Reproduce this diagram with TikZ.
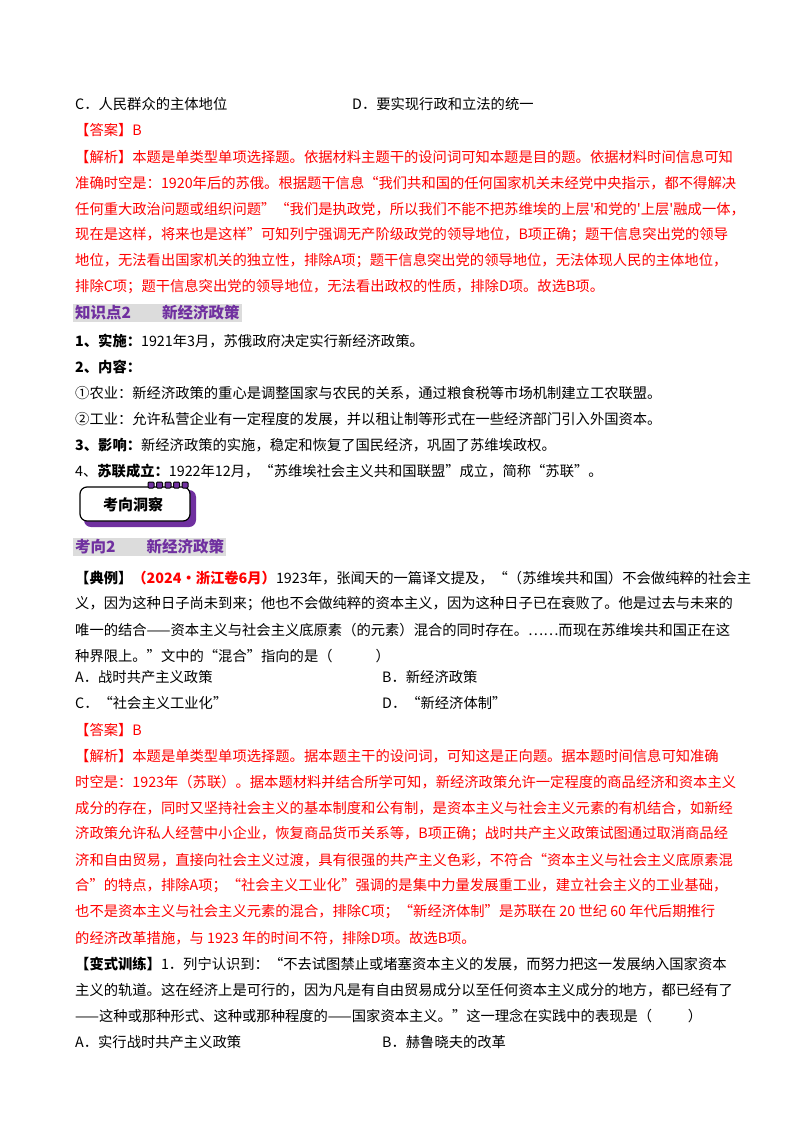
\documentclass[tikz,border=0pt]{standalone}
\usepackage{fontspec}
\setmainfont{Noto Sans CJK SC}
\definecolor{rd}{RGB}{255,0,0}
\definecolor{pu}{RGB}{112,48,160}
\definecolor{hg}{RGB}{220,220,220}
\newcommand{\J}[1]{#1}
\begin{document}
\begin{tikzpicture}[x=1pt,y=-1pt,
  t/.style={anchor=west,inner sep=0pt,font=\fontsize{14.3}{16}\selectfont},
  r/.style={t,text=rd},
  hd/.style={anchor=west,inner sep=2pt,fill=hg,text=pu,font=\fontsize{15.5}{17}\selectfont\bfseries}]
\useasboundingbox (0,0) rectangle (800,1132);
\fill[white] (0,0) rectangle (800,1132);
\node[t] (l1) at (75,104) {C．人民群众的主体地位};
\node[t] (l1b) at (352,104) {D．要实现行政和立法的统一};
\node[r] (a1) at (75,130) {【答案】B};
\node[r] (p1) at (75,157) {\J{【解析】本题是单类型单项选择题。依据材料主题干的设问词可知本题是目的题。依据材料时间信息可知}};
\node[r] (p2) at (75,183) {\J{准确时空是：1920年后的苏俄。根据题干信息“我们共和国的任何国家机关未经党中央指示，都不得解决}};
\node[r] (p3) at (75,209) {\J{任何重大政治问题或组织问题”“我们是执政党，所以我们不能不把苏维埃的上层\textquotesingle{}和党的\textquotesingle{}上层\textquotesingle{}融成一体，}};
\node[r] (p4) at (75,235) {\J{现在是这样，将来也是这样”可知列宁强调无产阶级政党的领导地位，B项正确；题干信息突出党的领导}};
\node[r] (p5) at (75,261) {\J{地位，无法看出国家机关的独立性，排除A项；题干信息突出党的领导地位，无法体现人民的主体地位，}};
\node[r] (p6) at (75,287) {排除C项；题干信息突出党的领导地位，无法看出政权的性质，排除D项。故选B项。};
\node[hd] (h1) at (73,313) {知识点2\hspace{2em}新经济政策};
\node[t] (k1) at (75,341) {\textbf{1、实施：}1921年3月，苏俄政府决定实行新经济政策。};
\node[t] (k2) at (75,367) {\textbf{2、内容：}};
\node[t] (k3) at (75,393) {①农业：新经济政策的重心是调整国家与农民的关系，通过粮食税等市场机制建立工农联盟。};
\node[t] (k4) at (75,419) {②工业：允许私营企业有一定程度的发展，并以租让制等形式在一些经济部门引入外国资本。};
\node[t] (k5) at (75,445) {\textbf{3、影响：}新经济政策的实施，稳定和恢复了国民经济，巩固了苏维埃政权。};
\node[t] (k6) at (75,471) {4、\textbf{苏联成立：}1922年12月，“苏维埃社会主义共和国联盟”成立，简称“苏联”。};
% badge
\fill[pu,rounded corners=7pt] (84,490) -- (196,490) -- (196,527) -- (84,527) -- cycle;
\draw[black,line width=1.2pt,fill=white,rounded corners=7pt] (80,487) -- (190,487) -- (190,521) -- (80,521) -- cycle;
\foreach \i in {0,...,4} \draw[black,line width=1pt,fill=pu,rounded corners=1pt] (148+\i*8.5,482) rectangle +(6,6);
\node[inner sep=0pt,font=\fontsize{15}{16}\selectfont\bfseries] (bd) at (133,505) {考向洞察};
\node[hd] (h2) at (73,547) {考向2\hspace{2em}新经济政策};
\node[t] (e1) at (75,578) {\J{\textbf{【典例】}\textcolor{rd}{\textbf{（2024·浙江卷6月）}}1923年，张闻天的一篇译文提及，“（苏维埃共和国）不会做纯粹的社会主}};
\node[t] (e2) at (75,604) {\J{义，因为这种日子尚未到来；他也不会做纯粹的资本主义，因为这种日子已在衰败了。他是过去与未来的}};
\node[t] (e3) at (75,630) {\J{唯一的结合——资本主义与社会主义底原素（的元素）混合的同时存在。……而现在苏维埃共和国正在这}};
\node[t] (e4) at (75,656) {种界限上。”文中的“混合”指向的是（\hspace{3em}）};
\node[t] (oA) at (75,677) {A．战时共产主义政策};
\node[t] (oB) at (382,677) {B．新经济政策};
\node[t] (oC) at (75,703) {C．“社会主义工业化”};
\node[t] (oD) at (382,703) {D．“新经济体制”};
\node[r] (a2) at (75,730) {【答案】B};
\node[r] (q1) at (75,756) {\J{【解析】本题是单类型单项选择题。据本题主干的设问词，可知这是正向题。据本题时间信息可知准确}};
\node[r] (q2) at (75,782) {\J{时空是：1923年（苏联）。据本题材料并结合所学可知，新经济政策允许一定程度的商品经济和资本主义}};
\node[r] (q3) at (75,808) {\J{成分的存在，同时又坚持社会主义的基本制度和公有制，是资本主义与社会主义元素的有机结合，如新经}};
\node[r] (q4) at (75,834) {\J{济政策允许私人经营中小企业，恢复商品货币关系等，B项正确；战时共产主义政策试图通过取消商品经}};
\node[r] (q5) at (75,860) {\J{济和自由贸易，直接向社会主义过渡，具有很强的共产主义色彩，不符合“资本主义与社会主义底原素混}};
\node[r] (q6) at (75,886) {\J{合”的特点，排除A项；“社会主义工业化”强调的是集中力量发展重工业，建立社会主义的工业基础，}};
\node[r] (q7) at (75,912) {\J{也不是资本主义与社会主义元素的混合，排除C项；“新经济体制”是苏联在 20 世纪 60 年代后期推行}};
\node[r] (q8) at (75,938) {的经济改革措施，与 1923 年的时间不符，排除D项。故选B项。};
\node[t] (v1) at (75,964) {\J{\textbf{【变式训练】}1．列宁认识到：“不去试图禁止或堵塞资本主义的发展，而努力把这一发展纳入国家资本}};
\node[t] (v2) at (75,990) {\J{主义的轨道。这在经济上是可行的，因为凡是有自由贸易成分以至任何资本主义成分的地方，都已经有了}};
\node[t] (v3) at (75,1016) {——这种或那种形式、这种或那种程度的——国家资本主义。”这一理念在实践中的表现是（\hspace{2.5em}）};
\node[t] (vA) at (75,1042) {A．实行战时共产主义政策};
\node[t] (vB) at (382,1042) {B．赫鲁晓夫的改革};
\end{tikzpicture}
\end{document}
